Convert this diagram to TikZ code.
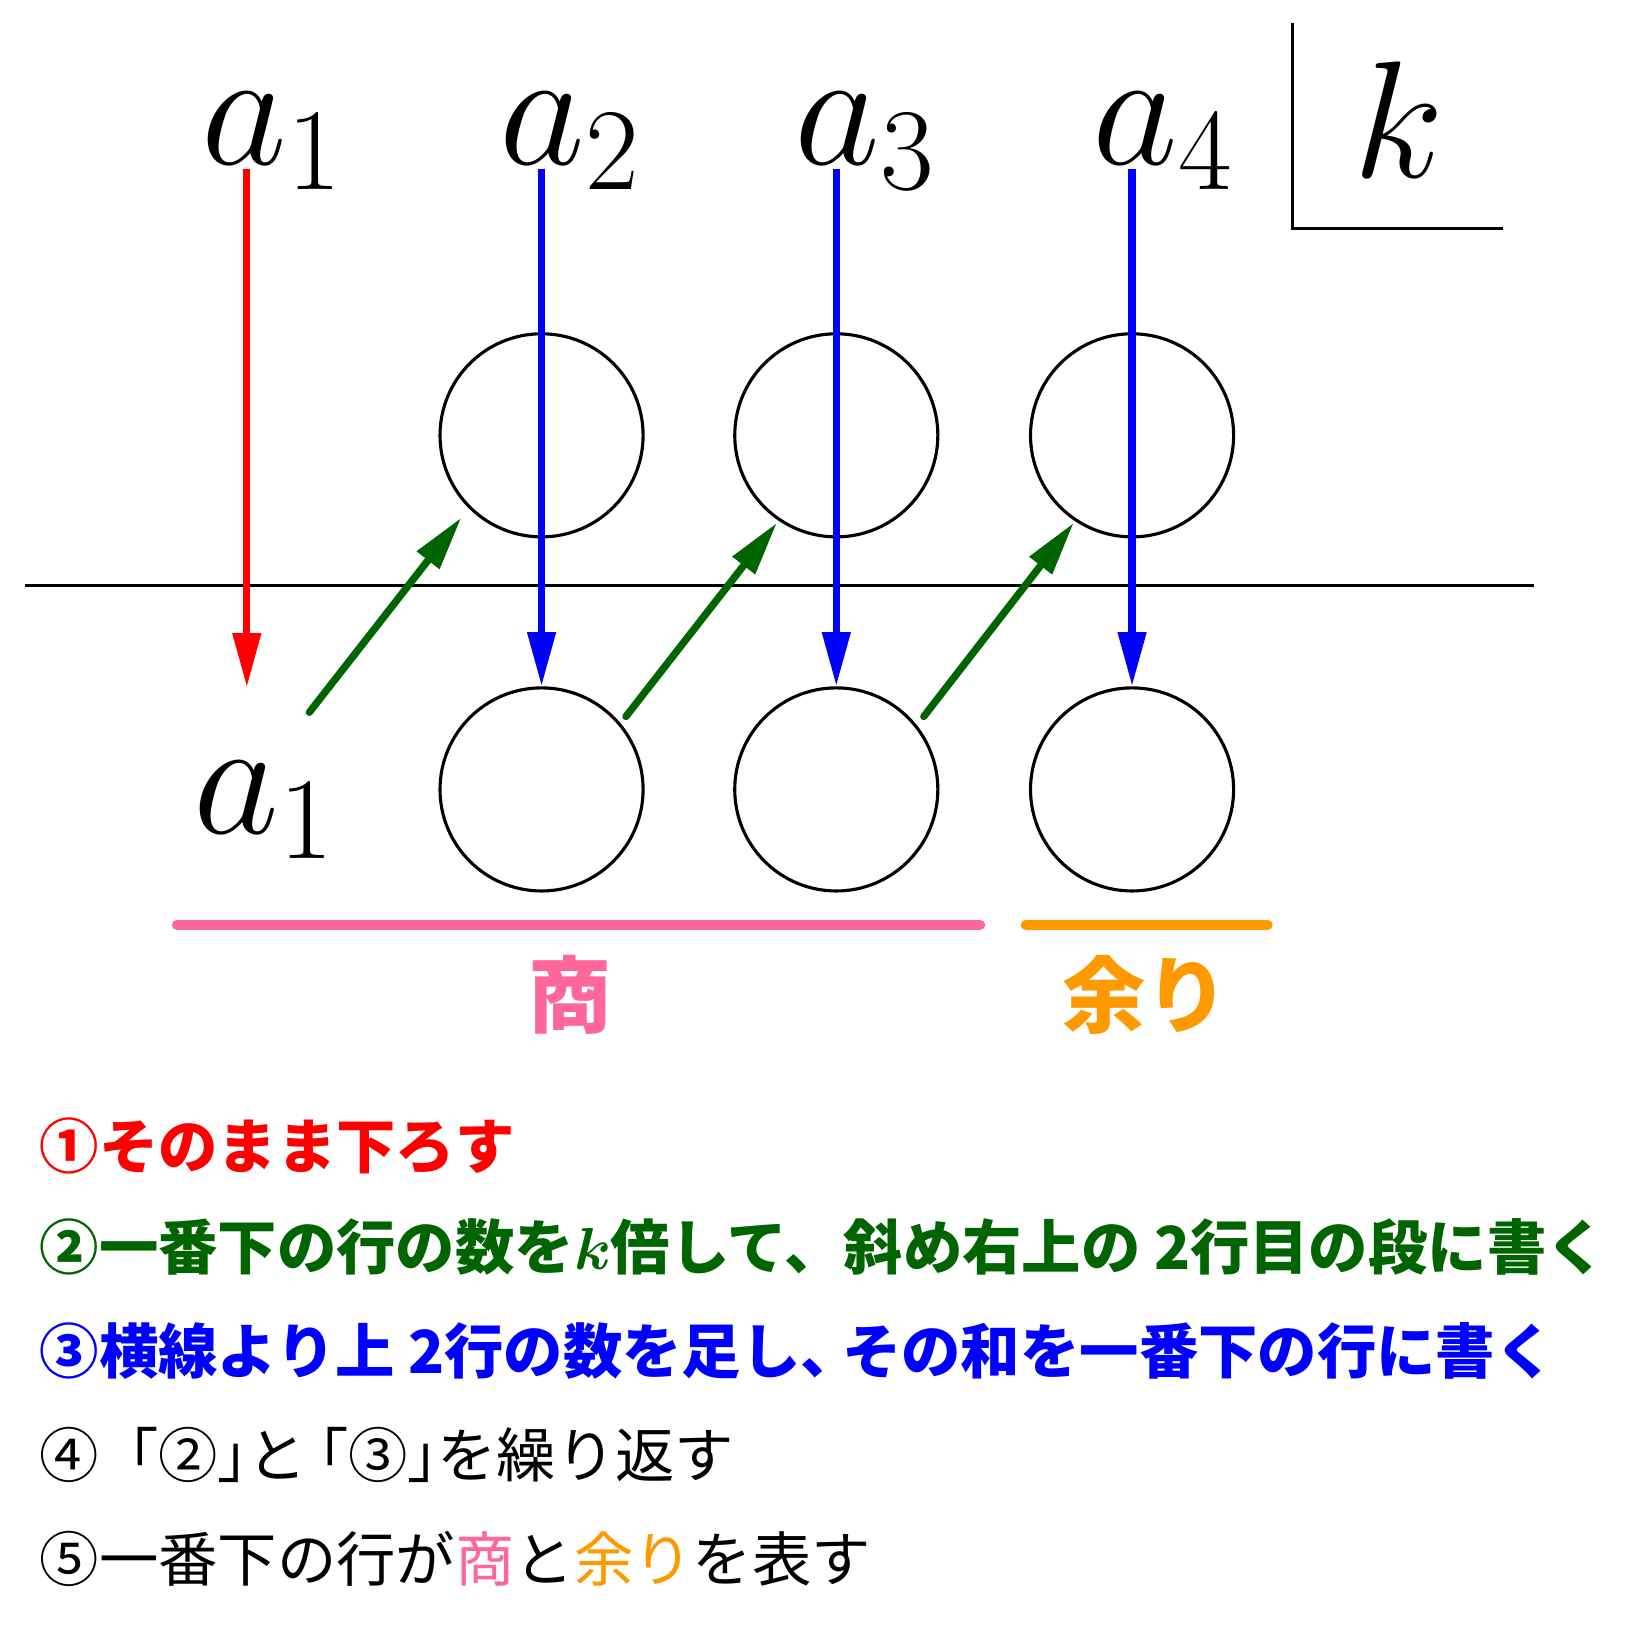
\RequirePackage{fix-cm}
\documentclass[tikz,border=0pt]{standalone}
\usepackage{fontspec}
\newfontfamily\jp{Noto Sans CJK JP}
\usetikzlibrary{arrows.meta}
\definecolor{qpink}{HTML}{FF6699}
\definecolor{qorange}{HTML}{FF9900}
\definecolor{qgreen}{HTML}{006400}
\begin{document}
\begin{tikzpicture}[x=1pt,y=-1pt,
  bigmath/.style={font=\fontsize{160}{160}\selectfont, inner sep=0pt, anchor=base},
  cell/.style={circle, draw, line width=3pt, minimum size=195pt, inner sep=0pt},
  down/.style={line width=7pt, -{Triangle[length=52pt,width=26pt]}},
  uparrow/.style={draw=qgreen, line width=7pt, line cap=round, -{Triangle[length=52pt,width=26pt]}},
  thin line/.style={line width=3pt},
  bar/.style={line width=10pt, line cap=round},
  jbig/.style={inner sep=0pt, font=\jp\bfseries\fontsize{80}{80}\selectfont},
  jtext/.style={anchor=west, inner sep=0pt, font=\jp\fontsize{57}{57}\selectfont},
  jbold/.style={jtext, font=\jp\bfseries\fontsize{57}{57}\selectfont}
]
\useasboundingbox (0,0) rectangle (1568,1568);

% top row labels
\node[bigmath] (ta1) at (261,158) {$a_1$};
\node[bigmath] (ta2) at (547,158) {$a_2$};
\node[bigmath] (ta3) at (830,158) {$a_3$};
\node[bigmath] (ta4) at (1116,158) {$a_4$};
\node[bigmath] (kk) at (1343,170) {$k$};
\node[bigmath] (ba1) at (253,800) {$a_1$};

% k box
\coordinate (kt) at (1241,22);
\coordinate (kc) at (1241,219);
\coordinate (kr) at (1443,219);
\draw[thin line] (kt) -- (kc) -- (kr);

% circles
\node[cell] (u1) at (520,418) {};
\node[cell] (u2) at (803,418) {};
\node[cell] (u3) at (1087,418) {};
\node[cell] (l1) at (520,758) {};
\node[cell] (l2) at (803,758) {};
\node[cell] (l3) at (1087,758) {};

% horizontal line
\coordinate (hl) at (24,562);
\coordinate (hr) at (1473,562);
\draw[thin line] (hl) -- (hr);

% red arrow
\coordinate (r1s) at (237,162);
\coordinate (r1e) at (237,660);
\draw[down, red] (r1s) -- (r1e);

% blue arrows
\coordinate (b1s) at (520,162);
\coordinate (b2s) at (803,162);
\coordinate (b3s) at (1087,162);
\draw[down, blue] (b1s) -- (l1.north);
\draw[down, blue] (b2s) -- (l2.north);
\draw[down, blue] (b3s) -- (l3.north);

% green arrows
\coordinate (g1s) at (297,684);
\coordinate (g1e) at (443,497);
\coordinate (g2s) at (601,688);
\coordinate (g2e) at (746,502);
\coordinate (g3s) at (887,688);
\coordinate (g3e) at (1031,502);
\draw[uparrow] (g1s) -- (g1e);
\draw[uparrow] (g2s) -- (g2e);
\draw[uparrow] (g3s) -- (g3e);

% bars
\coordinate (p1) at (170,888);
\coordinate (p2) at (941,888);
\coordinate (o1) at (985,888);
\coordinate (o2) at (1217,888);
\draw[bar, qpink] (p1) -- (p2);
\draw[bar, qorange] (o1) -- (o2);

\node[jbig, text=qpink] (sho) at (547,955) {商};
\node[jbig, text=qorange] (amari) at (1100,955) {余り};

% explanation lines
\node[jbold, text=red] (t1) at (38,1100) {①そのまま下ろす};
\node[jbold, text=qgreen] (t2) at (38,1197) {②一番下の行の数を{\boldmath$k$}倍して、斜め右上の 2行目の段に書く};
\node[jbold, text=blue] (t3) at (38,1297) {③横線より上 2行の数を足し、\kern-.3em その和を一番下の行に書く};
\node[jtext] (t4) at (38,1397) {④「②」\kern-.5em と\kern-.3em「③」\kern-.5em を繰り返す};
\node[jtext] (t5) at (38,1497) {⑤一番下の行が\textcolor{qpink}{商}と\textcolor{qorange}{余り}を表す};
\end{tikzpicture}
\end{document}
